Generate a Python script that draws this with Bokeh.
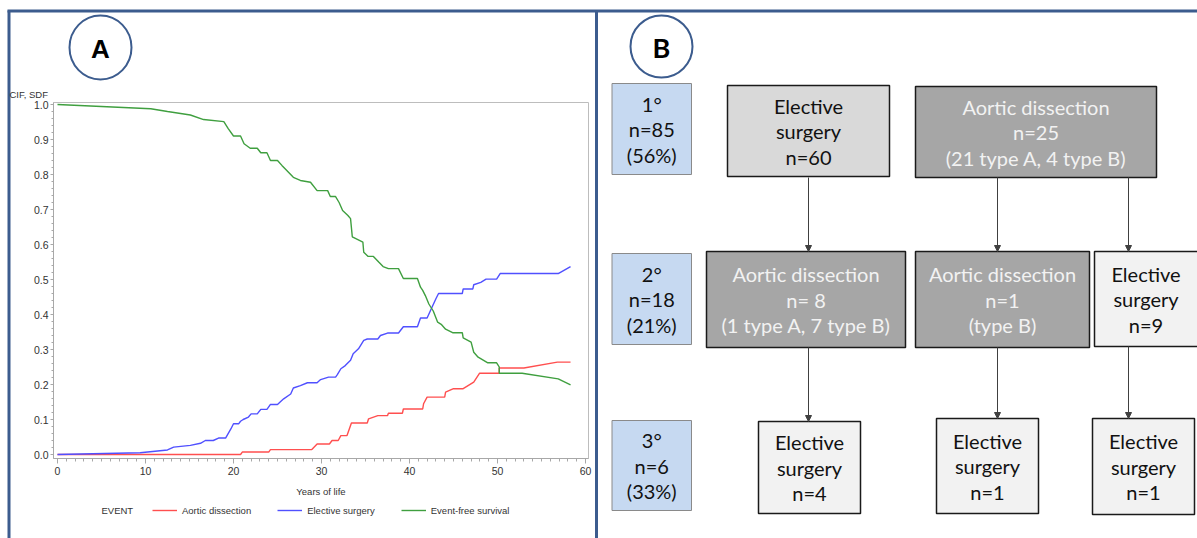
import numpy as np
from bokeh.plotting import figure
from bokeh.models import (Range1d, FixedTicker, NumeralTickFormatter, Legend, LegendItem,
                          LinearAxis, Arrow, NormalHead)
from bokeh.core.properties import value
from bokeh.embed import file_html
from bokeh.resources import INLINE

# ---------------- Panel A data ----------------
years_ad = [0, 20.8, 21.0, 24.0, 24.2, 28.9, 29.5, 30.9, 31.2, 31.9, 32.2, 32.9, 33.4, 35.2, 35.35,
            36.4, 37.5, 37.6, 39.2, 39.3, 41.5, 41.6, 42.0, 44.0, 44.1, 45.0, 46.1, 47.3, 47.95,
            50.2, 50.2, 53.0, 56.8, 58.3]
cif_ad = [0, 0, 0.007, 0.007, 0.014, 0.014, 0.03, 0.03, 0.04, 0.04, 0.054, 0.054, 0.09, 0.09, 0.102,
          0.111, 0.111, 0.118, 0.118, 0.13, 0.13, 0.145, 0.164, 0.164, 0.178, 0.188, 0.188, 0.207, 0.232,
          0.232, 0.247, 0.247, 0.264, 0.264]

years_es = [0, 9.4, 12.5, 13.2, 15.1, 16.25, 16.8, 17.7, 18.3, 19.1, 19.7, 20.0, 20.6, 20.8, 21.1,
            21.7, 22.0, 22.7, 23.1, 23.8, 24.2, 25.0, 25.3, 25.7, 26.5, 26.8, 27.6, 28.4, 29.5, 29.9,
            30.8, 31.6, 31.8, 32.2, 32.7, 33.3, 33.6, 34.2, 34.8, 35.2, 36.4, 36.7, 37.5, 38.75, 39.3,
            40.9, 41.25, 42.0, 42.4, 43.0, 43.3, 46.0, 46.1, 47.2, 47.3, 48.1, 48.7, 49.9, 50.3, 56.9, 58.3]
cif_es = [0, 0.005, 0.013, 0.021, 0.026, 0.032, 0.04, 0.04, 0.047, 0.047, 0.073, 0.088, 0.088, 0.095, 0.1,
          0.107, 0.116, 0.116, 0.129, 0.129, 0.143, 0.143, 0.15, 0.159, 0.173, 0.19, 0.197, 0.205, 0.205, 0.214,
          0.221, 0.221, 0.228, 0.245, 0.254, 0.269, 0.288, 0.302, 0.326, 0.33, 0.33, 0.34, 0.347, 0.347, 0.365,
          0.365, 0.39, 0.39, 0.412, 0.445, 0.46, 0.46, 0.473, 0.473, 0.485, 0.492, 0.501, 0.501, 0.517, 0.517, 0.537]

years_ef = [0, 10.6, 12.5, 15.1, 16.6, 18.9, 19.4, 20.0, 20.8, 21.2, 21.9, 22.7, 23.1, 23.8, 24.2,
            25.0, 25.5, 26.8, 27.6, 28.75, 29.5, 30.7, 31.0, 31.6, 32.0, 32.4, 33.0, 33.3, 33.5, 34.7,
            34.8, 35.3, 35.9, 36.5, 37.0, 37.6, 38.75, 39.3, 40.9, 41.25, 41.5, 41.8, 42.2, 42.7, 43.2,
            43.6, 44.1, 44.9, 46.0, 46.1, 47.0, 47.3, 47.8, 48.9, 49.9, 50.2, 50.2, 52.8, 56.9, 58.3]
sdf_ef = [1.0, 0.988, 0.98, 0.97, 0.957, 0.951, 0.931, 0.91, 0.91, 0.888, 0.875, 0.875, 0.862, 0.862, 0.84,
          0.84, 0.826, 0.792, 0.783, 0.778, 0.754, 0.754, 0.737, 0.737, 0.72, 0.697, 0.683, 0.674, 0.622, 0.607,
          0.578, 0.566, 0.566, 0.55, 0.537, 0.531, 0.531, 0.503, 0.503, 0.478, 0.469, 0.454, 0.43, 0.41, 0.378,
          0.372, 0.358, 0.348, 0.348, 0.333, 0.321, 0.292, 0.278, 0.262, 0.262, 0.25, 0.232, 0.232, 0.216, 0.199]

series_names = ["Aortic dissection", "Elective surgery", "Event-free survival"]
series_colors = ["#ff4f4f", "#5050ff", "#3f9f3f"]
x_ticks = [0, 10, 20, 30, 40, 50, 60]
y_ticks = [0.0, 0.1, 0.2, 0.3, 0.4, 0.5, 0.6, 0.7, 0.8, 0.9, 1.0]
x_title = "Years of life"
y_title = "CIF, SDF"
legend_title = "EVENT"

# ---------------- Panel B data ----------------
level_names = ["1°", "2°", "3°"]
level_counts = ["n=85", "n=18", "n=6"]
level_shares = ["(56%)", "(21%)", "(33%)"]
event_texts = [
    ["Elective", "surgery", "n=60"],
    ["Aortic dissection", "n=25", "(21 type A, 4 type B)"],
    ["Aortic dissection", "n= 8", "(1 type A, 7 type B)"],
    ["Aortic dissection", "n=1", "(type B)"],
    ["Elective", "surgery", "n=9"],
    ["Elective", "surgery", "n=4"],
    ["Elective", "surgery", "n=1"],
    ["Elective", "surgery", "n=1"],
]
event_kinds = ["es1", "ad", "ad", "ad", "es", "es", "es", "es"]

# ---------------- layout (page pixels) ----------------
W, H = 1197, 538
PX0, PY0 = 0, 0                      # page offset of the canvas
FL, FT, FR, FB = 53, 102, 588, 458   # chart frame
X0_PX, X_PER_YR = 57, 8.8            # year 0 position, pixels per year
Y0_PX, Y_PER_UNIT = 454, 350         # value 0 position, pixels per unit

ev_left = [727, 915, 706, 915, 1094, 758, 936, 1092]
ev_right = [889, 1156, 905, 1089, 1210, 860, 1038, 1194]
ev_top = [85, 86, 251, 251, 251, 421, 418, 418]
ev_bottom = [176, 177, 347, 347, 346, 513, 513, 514]
lv_left, lv_right = 611.5, 691
lv_top = [83, 253, 420]
lv_bottom = [174, 344, 510]
arrow_x = [808, 997, 1128, 808, 997, 1128]
arrow_y0 = [177, 177, 177, 347, 347, 346]
arrow_y1 = [251, 251, 251, 421, 418, 418]

BLUE = "#3c5c8e"
FONT = "Liberation Sans"
TXT = "#333333"

p = figure(width=W, height=H, x_range=Range1d(PX0, PX0 + W), y_range=Range1d(PY0 + H, PY0),
           output_backend="svg", toolbar_location=None, title=None, min_border=0,
           x_axis_location=None, y_axis_location=None)
p.grid.visible = False
p.outline_line_color = None

# chart scales (years / CIF) mapped onto the chart area
p.extra_x_ranges = {"yrs": Range1d((PX0 - X0_PX) / X_PER_YR, (PX0 + W - X0_PX) / X_PER_YR)}
p.extra_y_ranges = {"cif": Range1d((Y0_PX - (PY0 + H)) / Y_PER_UNIT, (Y0_PX - PY0) / Y_PER_UNIT)}
x_lo, x_hi = (FL - X0_PX) / X_PER_YR, (FR - X0_PX) / X_PER_YR
y_lo, y_hi = (Y0_PX - FB) / Y_PER_UNIT, (Y0_PX - FT) / Y_PER_UNIT

# panel frames
p.multi_line([[8.5, 8.5], [596, 596], [7, 1200]], [[10, 545], [10, 545], [10.5, 10.5]],
             line_color=BLUE, line_width=3)

# chart frame
p.quad(left=[x_lo], right=[x_hi], bottom=[y_lo], top=[y_hi], x_range_name="yrs", y_range_name="cif",
       fill_color=None, line_color="#bdbdbd", line_width=1)

xaxis = LinearAxis(x_range_name="yrs", fixed_location=FB, bounds=(x_lo, x_hi),
                   ticker=FixedTicker(ticks=x_ticks, minor_ticks=list(range(0, 61))),
                   formatter=NumeralTickFormatter(format="0"))
yaxis = LinearAxis(y_range_name="cif", fixed_location=FL, bounds=(y_lo, y_hi),
                   ticker=FixedTicker(ticks=y_ticks, minor_ticks=[round(i * 0.02, 2) for i in range(51)]),
                   formatter=NumeralTickFormatter(format="0.0"))
for ax in (xaxis, yaxis):
    ax.axis_line_color = "#a8a8a8"
    ax.major_tick_line_color = "#a8a8a8"
    ax.minor_tick_line_color = "#a8a8a8"
    ax.major_tick_in = 0
    ax.minor_tick_in = 0
    ax.major_label_text_font = FONT
    ax.major_label_text_font_size = "10.5px"
    ax.major_label_text_color = TXT
xaxis.major_tick_out = 5
xaxis.minor_tick_out = 3
xaxis.major_label_standoff = 3
yaxis.major_tick_out = 3
yaxis.minor_tick_out = 2
yaxis.major_label_standoff = 2
xaxis.axis_label = x_title
xaxis.axis_label_text_font = FONT
xaxis.axis_label_text_font_size = "9.5px"
xaxis.axis_label_text_font_style = "normal"
xaxis.axis_label_text_color = TXT
xaxis.axis_label_standoff = 8
p.add_layout(xaxis, "below")
p.add_layout(yaxis, "left")

r_ad = p.line(years_ad, cif_ad, x_range_name="yrs", y_range_name="cif",
              line_color=series_colors[0], line_width=1.4)
r_es = p.line(years_es, cif_es, x_range_name="yrs", y_range_name="cif",
              line_color=series_colors[1], line_width=1.4)
r_ef = p.line(years_ef, sdf_ef, x_range_name="yrs", y_range_name="cif",
              line_color=series_colors[2], line_width=1.4)

legend = Legend(items=[LegendItem(label=series_names[0], renderers=[r_ad]),
                       LegendItem(label=series_names[1], renderers=[r_es]),
                       LegendItem(label=series_names[2], renderers=[r_ef])],
                orientation="horizontal", location=(152 - PX0, PY0 + H - 516),
                glyph_width=25, glyph_height=12, label_height=12, label_standoff=5, spacing=26,
                padding=0, margin=0, border_line_color=None, background_fill_alpha=0,
                label_text_font=FONT, label_text_font_size="9.5px", label_text_color=TXT)
p.add_layout(legend)

p.text(x=[101], y=[510], text=[legend_title], text_align="left", text_baseline="middle",
       text_font=value(FONT), text_font_size="9.5px", text_color=TXT)
p.text(x=[9], y=[94], text=[y_title], text_align="left", text_baseline="middle",
       text_font=value(FONT), text_font_size="9.5px", text_color=TXT)

# panel letters
p.ellipse(x=[100, 661], y=[47, 46], width=[62, 62], height=[64, 62], fill_color=None,
          line_color=BLUE, line_width=2)
p.text(x=[100], y=[48], text=["A"], text_align="center", text_baseline="middle",
       text_font=value(FONT), text_font_style="bold", text_font_size="26px", text_color="black")
p.text(x=[661], y=[47], text=["B"], text_align="center", text_baseline="middle",
       text_font=value("Lato"), text_font_style="bold", text_font_size="27px", text_color="black")

DFONT = value("Lato")
LINE = 25.5

# level boxes
p.quad(left=[lv_left] * 3, right=[lv_right] * 3, top=lv_top, bottom=lv_bottom,
       fill_color="#c6d9f1", line_color="#8a8a8a", line_width=1)
for i in range(3):
    cy = (lv_top[i] + lv_bottom[i]) / 2
    lines = [level_names[i], level_counts[i], level_shares[i]]
    p.text(x=[(lv_left + lv_right) / 2] * 3, y=[cy + (k - 1) * LINE for k in range(3)], text=lines,
           text_align="center", text_baseline="middle", text_font=DFONT, text_font_size="20px",
           text_color="#111111")

fills = {"es1": "#d9d9d9", "ad": "#a6a6a6", "es": "#f2f2f2"}
tcols = {"es1": "#111111", "ad": "#f2f2f2", "es": "#111111"}
p.quad(left=ev_left, right=ev_right, top=ev_top, bottom=ev_bottom,
       fill_color=[fills[k] for k in event_kinds], line_color="#1a1a1a", line_width=1.5)
for i, lines in enumerate(event_texts):
    cx = (ev_left[i] + min(ev_right[i], 1197)) / 2
    cy = (ev_top[i] + ev_bottom[i]) / 2
    n = len(lines)
    p.text(x=[cx] * n, y=[cy + (k - (n - 1) / 2) * LINE for k in range(n)], text=lines,
           text_align="center", text_baseline="middle", text_font=DFONT, text_font_size="20px",
           text_color=tcols[event_kinds[i]])

for i in range(len(arrow_x)):
    p.add_layout(Arrow(end=NormalHead(size=6, fill_color="#404040", line_color="#404040"),
                       x_start=arrow_x[i], y_start=arrow_y0[i], x_end=arrow_x[i], y_end=arrow_y1[i],
                       line_color="#404040", line_width=1))

open("out.html", "w").write(file_html(p, INLINE))
